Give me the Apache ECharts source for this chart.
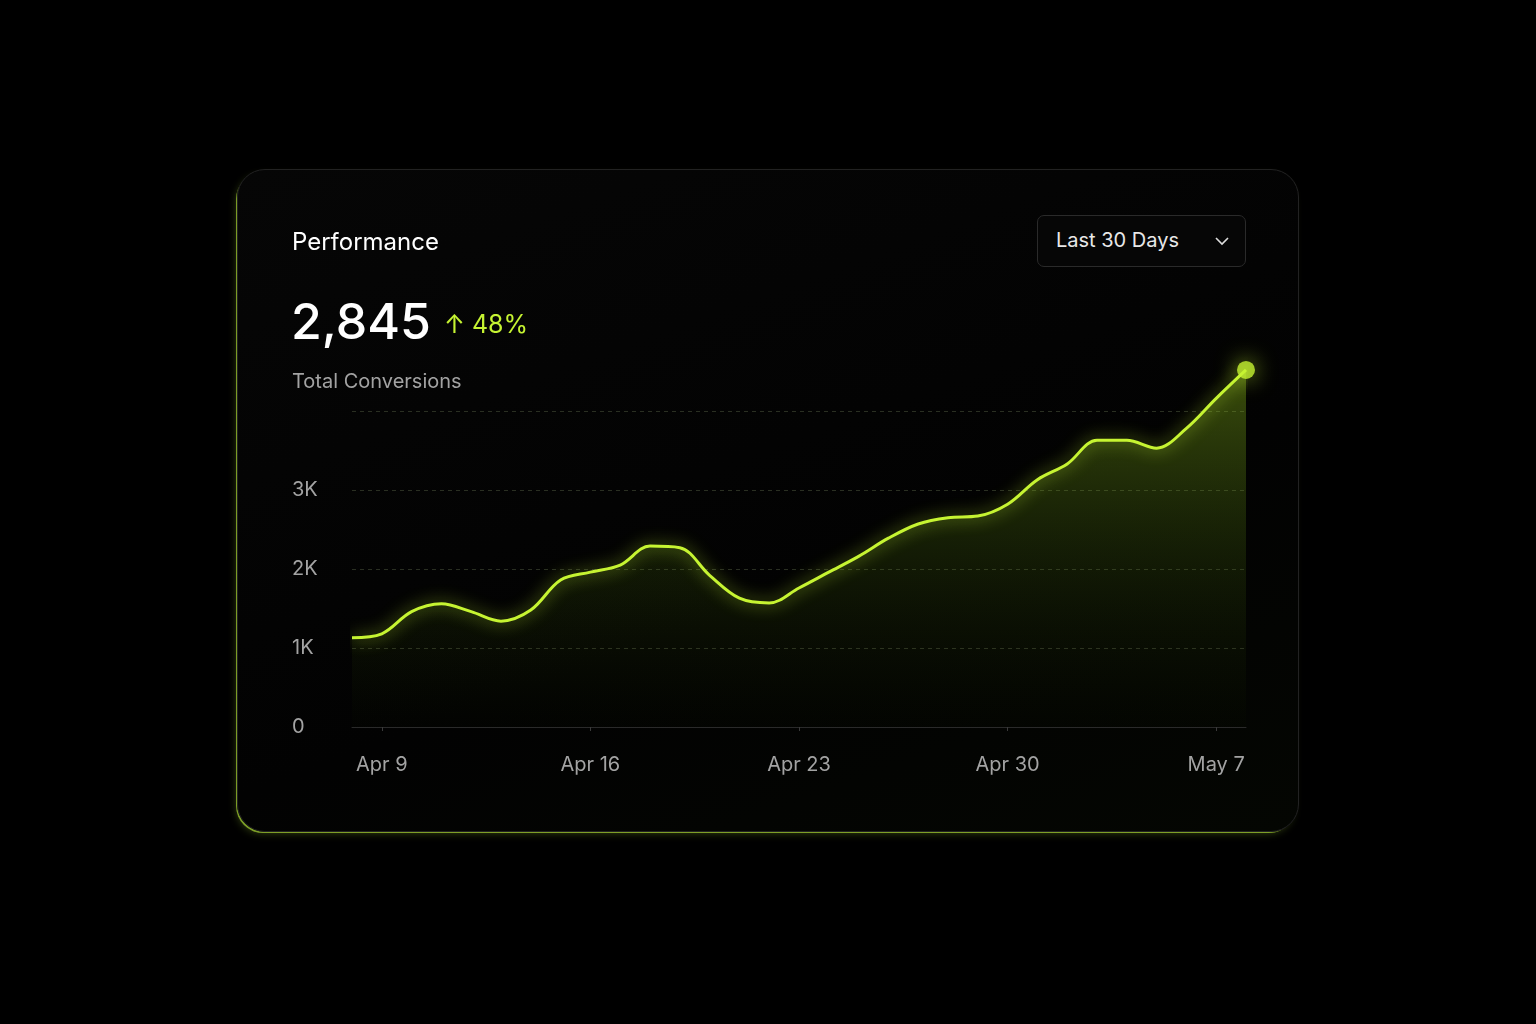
<!DOCTYPE html>
<html><head><meta charset="utf-8">
<script src="https://cdn.jsdelivr.net/npm/echarts@6/dist/echarts.min.js"></script>
<style>
html,body{margin:0;background:#000;width:1536px;height:1024px;overflow:hidden;font-family:Inter,"Noto Sans",sans-serif}
.card{position:absolute;left:237px;top:169px;width:1060px;height:661px;border-radius:28px;
 background:linear-gradient(160deg,#060606,#020202 60%,#040602);border:1px solid #222;
 box-shadow:-2px 2px 0 -1px rgba(190,240,60,.6),-3px 4px 10px -4px rgba(190,240,60,.35);}
#chart{position:absolute;left:0;top:0;width:1536px;height:1024px}
.t{position:absolute;color:#fff;white-space:nowrap}
.dd{position:absolute;left:1037px;top:215px;width:209px;height:52px;border:1px solid #2a2a2a;border-radius:7px;background:#060606;box-sizing:border-box}
</style></head><body>
<div class="card"></div>
<div id="chart"></div>
<div class="t" style="left:292px;top:227px;font-size:24px">Performance</div>
<div class="t" style="left:291px;top:291px;font-size:50px;font-weight:500">2,845</div>
<div class="t" style="left:444px;top:309px;font-size:25px;color:#c6f432">↑ 48%</div>
<div class="t" style="left:292px;top:369px;font-size:20px;color:#a3a3a3">Total Conversions</div>
<div class="dd"><div class="t" style="left:18px;top:12px;font-size:20px;color:#e8e8e8">Last 30 Days</div>
<svg style="position:absolute;left:177px;top:21px" width="14" height="9"><path d="M1 1 L7 7 L13 1" stroke="#ddd" stroke-width="1.6" fill="none"/></svg></div>
<script>
var dates = [];
(function () {
  var d = new Date(2024, 3, 8);
  for (var i = 0; i < 31; i++) {
    dates.push(d.toLocaleString('en-US', { month: 'short' }) + ' ' + d.getDate());
    d.setDate(d.getDate() + 1);
  }
})();
var labelIdx = [1, 8, 15, 22, 29];
var yTicks = { 0: '0', 1000: '1K', 2000: '2K', 3000: '3K', 4000: '' };
var conversions = [1130, 1180, 1460, 1560, 1460, 1340, 1480, 1860, 1960, 2050, 2290, 2270, 1920, 1630, 1570,
  1760, 1960, 2160, 2390, 2570, 2650, 2670, 2820, 3130, 3330, 3630, 3630, 3530, 3780, 4160, 4520];
var lastIdx = conversions.length - 1;

var chart = echarts.init(document.getElementById('chart'), null, { renderer: 'canvas' });
var green = '#c6f432';
chart.setOption({
  animation: false,
  grid: { left: 352, right: 290, top: 411, bottom: 297 },
  xAxis: {
    type: 'category', data: dates, boundaryGap: false,
    axisLine: { lineStyle: { color: '#2a2a2a' } },
    axisTick: { show: true, length: 4, lineStyle: { color: '#3a3a3a' }, interval: function (i) { return labelIdx.indexOf(i) >= 0; } },
    axisLabel: { color: '#a3a3a3', fontSize: 20, margin: 28, fontFamily: 'Inter',
      interval: function (i) { return labelIdx.indexOf(i) >= 0; } },
    splitLine: { show: false }
  },
  yAxis: {
    type: 'value', min: 0, max: 4000, interval: 1000,
    axisLabel: { color: '#a3a3a3', fontSize: 20, margin: 60, align: 'left', fontFamily: 'Inter',
      formatter: function (v) { return yTicks[v]; } },
    axisLine: { show: false }, axisTick: { show: false },
    splitLine: { lineStyle: { color: '#2a2f22', type: [4, 4] } }
  },
  series: [{
    type: 'line', data: conversions, smooth: 0.35, clip: false,
    showSymbol: false,
    lineStyle: { color: green, width: 3, shadowColor: 'rgba(198,244,50,0.8)', shadowBlur: 16 },
    areaStyle: { color: new echarts.graphic.LinearGradient(0, 0, 0, 1, [
      { offset: 0, color: 'rgba(150,200,30,0.55)' },
      { offset: 0.5, color: 'rgba(90,130,20,0.3)' },
      { offset: 1, color: 'rgba(40,60,10,0.05)' }]) }
  }, {
    type: 'scatter', clip: false, symbolSize: 18,
    data: [[lastIdx, conversions[lastIdx]]],
    itemStyle: { color: green, shadowColor: 'rgba(198,244,50,0.9)', shadowBlur: 22 },
    z: 5
  }]
});
</script>
</body></html>
